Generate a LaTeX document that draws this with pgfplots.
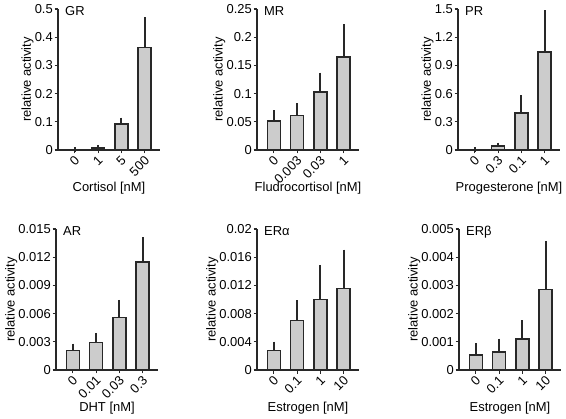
\documentclass[border=0pt]{standalone}
\usepackage{fontspec}
\setmainfont{Liberation Sans}
\usepackage{pgfplots}
\pgfplotsset{compat=1.18}
\newcommand{\fs}{\fontsize{13}{15}\selectfont}
\definecolor{barfill}{RGB}{204,204,204}
\definecolor{ink}{RGB}{40,40,40}
\pgfplotsset{
  panel/.style={
    scale only axis, width=102bp, height=141bp,
    anchor=south west,
    axis lines*=left, ymin=0,
    xmin=-0.72, xmax=3.66, xtick={0,1,2,3},
    tick align=outside, major tick length=3.5bp,
    axis line style={line width=1.3bp, color=ink},
    tick style={line width=1.1bp, color=ink},
    every tick label/.append style={font=\fs, text=black},
    xticklabel style={inner sep=0pt, xshift=2.5bp, yshift=-5bp, rotate=45, anchor=east},
    yticklabel style={inner sep=0pt, xshift=-1.5bp},
    scaled y ticks=false,
    ylabel={relative activity},
    ylabel style={font=\fs, inner sep=1bp},
    xlabel style={font=\fs, at={(axis description cs:0.5,0)}, anchor=north, yshift=-32bp, inner sep=0pt},
    title style={font=\fs, at={(axis description cs:0,1)}, anchor=north west, xshift=7bp, yshift=-3bp, inner sep=0pt},
    clip=false,
  },
  bars/.style={
    ybar, bar width=13bp, fill=barfill, draw=ink, line width=1.5bp,
    error bars/y dir=plus, error bars/y explicit,
    error bars/error bar style={line width=2bp, draw=ink},
    error bars/error mark=-,
    error bars/error mark options={draw=ink, line width=2bp, mark size=2.4bp},
  },
}
\begin{document}
\begin{tikzpicture}
\useasboundingbox (0,0) rectangle (566bp,419bp);
% GR
\begin{axis}[panel, at={(58bp,269bp)}, title={GR},
  ymax=0.5, ytick={0,0.1,0.2,0.3,0.4,0.5}, yticklabels={0,0.1,0.2,0.3,0.4,0.5},
  xticklabels={0,1,5,500}, xlabel={Cortisol [nM]}]
\addplot[bars] coordinates {(0,0.001) +- (0,0) (1,0.007) +- (0,0.003) (2,0.092) +- (0,0.014) (3,0.363) +- (0,0.100)};
\end{axis}
% MR
\begin{axis}[panel, at={(257bp,269bp)}, title={MR},
  ymax=0.25, ytick={0,0.05,0.1,0.15,0.2,0.25}, yticklabels={0,0.05,0.1,0.15,0.2,0.25},
  xticklabels={0,0.003,0.03,1}, xlabel={Fludrocortisol [nM]}]
\addplot[bars] coordinates {(0,0.051) +- (0,0.015) (1,0.061) +- (0,0.018) (2,0.103) +- (0,0.030) (3,0.165) +- (0,0.054)};
\end{axis}
% PR
\begin{axis}[panel, at={(458bp,269bp)}, title={PR},
  ymax=1.5, ytick={0,0.3,0.6,0.9,1.2,1.5}, yticklabels={0,0.3,0.6,0.9,1.2,1.5},
  xticklabels={0,0.3,0.1,1}, xlabel={Progesterone [nM]}]
\addplot[bars] coordinates {(0,0.002) +- (0,0) (1,0.043) +- (0,0.010) (2,0.394) +- (0,0.163) (3,1.043) +- (0,0.418)};
\end{axis}
% AR
\begin{axis}[panel, at={(56bp,49bp)}, title={AR},
  ymax=0.015, ytick={0,0.003,0.006,0.009,0.012,0.015}, yticklabels={0,0.003,0.006,0.009,0.012,0.015},
  xticklabels={0,0.01,0.03,0.3}, xlabel={DHT [nM]}]
\addplot[bars] coordinates {(0,0.00206) +- (0,0.0005) (1,0.00294) +- (0,0.00075) (2,0.00557) +- (0,0.00163) (3,0.01149) +- (0,0.00238)};
\end{axis}
% ER alpha
\begin{axis}[panel, at={(257bp,49bp)}, title={ERα},
  ymax=0.02, ytick={0,0.004,0.008,0.012,0.016,0.02}, yticklabels={0,0.004,0.008,0.012,0.016,0.02},
  xticklabels={0,0.1,1,10}, xlabel={Estrogen [nM]}]
\addplot[bars] coordinates {(0,0.00274) +- (0,0.00095) (1,0.0070) +- (0,0.00255) (2,0.01002) +- (0,0.00454) (3,0.01158) +- (0,0.00516)};
\end{axis}
% ER beta
\begin{axis}[panel, at={(459bp,49bp)}, title={ERβ},
  ymax=0.005, ytick={0,0.001,0.002,0.003,0.004,0.005}, yticklabels={0,0.001,0.002,0.003,0.004,0.005},
  xticklabels={0,0.1,1,10}, xlabel={Estrogen [nM]}]
\addplot[bars] coordinates {(0,0.00053) +- (0,0.00033) (1,0.00064) +- (0,0.00039) (2,0.0011) +- (0,0.00058) (3,0.00285) +- (0,0.00164)};
\end{axis}
\end{tikzpicture}
\end{document}
